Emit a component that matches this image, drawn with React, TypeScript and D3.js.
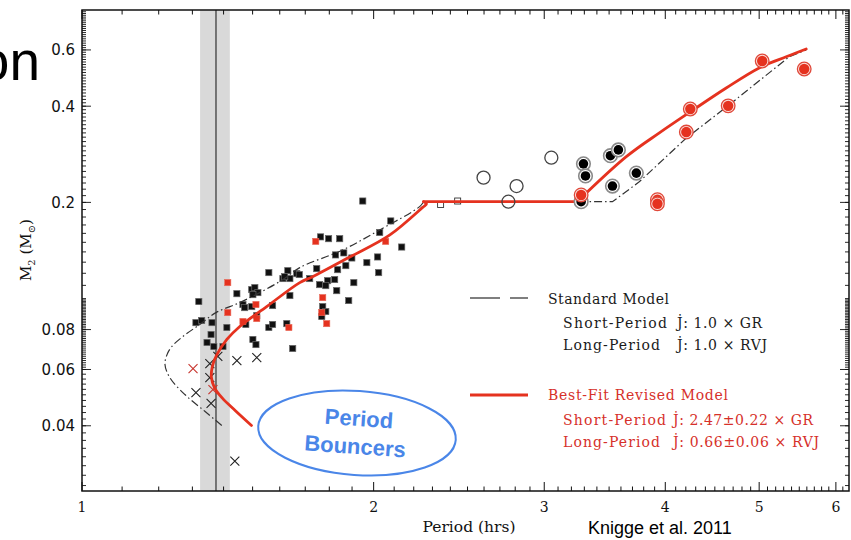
import React from 'react';
import * as d3 from 'd3';

const W = 851;
const H = 540;
const plotLeft = 82;
const plotRight = 849;
const plotTop = 10;
const plotBottom = 491;

// Axis domains and labelled ticks
const periodDomain: [number, number] = [1, 6.19];
const massDomain: [number, number] = [0.025, 0.8];
const periodTicks = [1, 2, 3, 4, 5, 6];
const periodTickLabels = ['1', '2', '3', '4', '5', '6'];
const massTicks = [0.04, 0.06, 0.08, 0.2, 0.4, 0.6];
const massTickLabels = ['0.04', '0.06', '0.08', '0.2', '0.4', '0.6'];

// Period minimum (line) and its uncertainty band, hours
const periodMinimum = 1.375;
const periodMinBand: [number, number] = [1.324, 1.421];

// [period (hrs), M2 (Msun)]
const blackSquares: [number, number][] = [
  [1.949, 0.202], [2.083, 0.175], [2.029, 0.161], [1.763, 0.156], [1.797, 0.154],
  [1.845, 0.154], [2.138, 0.145], [1.827, 0.137], [1.863, 0.139], [1.899, 0.134],
  [2.019, 0.135], [1.968, 0.1296], [1.872, 0.1268], [1.836, 0.1232], [1.747, 0.1241],
  [1.631, 0.1223], [1.666, 0.1197], [2.024, 0.1206], [1.612, 0.1155], [1.639, 0.1155],
  [1.718, 0.1155], [1.793, 0.1138], [1.823, 0.1147], [1.759, 0.1106], [1.785, 0.1098],
  [1.908, 0.1122], [1.832, 0.1059], [1.639, 0.1022], [1.885, 0.0986], [1.772, 0.0944],
  [1.785, 0.0911], [1.768, 0.0879], [1.627, 0.0835], [1.650, 0.0698], [1.559, 0.1206],
  [1.619, 0.1171], [1.676, 0.1189], [1.320, 0.0979], [1.445, 0.1036], [1.497, 0.1067],
  [1.508, 0.1082], [1.519, 0.1044], [1.501, 0.1029], [1.466, 0.0958], [1.472, 0.0937],
  [1.497, 0.0944], [1.573, 0.0951], [1.515, 0.0885], [1.311, 0.0841], [1.329, 0.0854],
  [1.362, 0.0841], [1.411, 0.0812], [1.476, 0.0830], [1.559, 0.0812], [1.573, 0.0830],
  [1.359, 0.0772], [1.346, 0.0729], [1.368, 0.0708], [1.398, 0.0708], [1.501, 0.0745],
  [1.512, 0.0718],
];
const redSquares: [number, number][] = [
  [1.743, 0.151], [2.058, 0.151], [1.772, 0.1007], [1.768, 0.0904], [1.789, 0.0835],
  [1.635, 0.0812], [1.414, 0.1122], [1.414, 0.0904], [1.512, 0.0958], [1.515, 0.0866],
  [1.466, 0.0848],
];
const openSquares: [number, number][] = [[2.345, 0.197], [2.442, 0.202]];
const blackCrosses: [number, number][] = [
  [1.381, 0.0659], [1.445, 0.0640], [1.515, 0.0654], [1.355, 0.0626], [1.355, 0.0566],
  [1.311, 0.0508], [1.359, 0.0470], [1.438, 0.0310],
];
const redCrosses: [number, number][] = [[1.302, 0.0604], [1.365, 0.0519]];
const openCircles: [number, number][] = [
  [2.597, 0.239], [2.809, 0.225], [3.051, 0.276], [2.755, 0.201],
];
const blackCircles: [number, number][] = [
  [3.293, 0.264], [3.309, 0.242], [3.511, 0.280], [3.578, 0.292], [3.528, 0.225],
  [3.734, 0.247], [3.275, 0.201],
];
const redCircles: [number, number][] = [
  [3.275, 0.211], [4.245, 0.392], [4.205, 0.332], [4.645, 0.401], [5.036, 0.554],
  [5.565, 0.523], [3.926, 0.204], [3.926, 0.198],
];

// Standard model track
const standardShort: [number, number][] = [
  [1.394, 0.0401], [1.339, 0.0444], [1.277, 0.0501], [1.232, 0.0566], [1.218, 0.0622],
  [1.224, 0.0668], [1.238, 0.0708], [1.271, 0.0761], [1.323, 0.0830], [1.375, 0.0904],
  [1.455, 0.0972], [1.533, 0.1052], [1.612, 0.1147], [1.678, 0.1250], [1.858, 0.142],
  [2.029, 0.164], [2.231, 0.194], [2.252, 0.201],
];
const standardLong: [number, number][] = [
  [2.252, 0.201], [3.528, 0.201], [3.760, 0.232], [4.205, 0.318], [4.656, 0.404],
  [5.370, 0.571], [5.591, 0.600],
];

// Best-fit revised model track
const revisedShort: [number, number][] = [
  [1.496, 0.0401], [1.440, 0.0446], [1.396, 0.0488], [1.370, 0.0527], [1.360, 0.0568],
  [1.363, 0.0612], [1.377, 0.0665], [1.411, 0.0745], [1.455, 0.0818], [1.551, 0.0944],
  [1.678, 0.1122], [1.730, 0.1171], [1.890, 0.135], [2.077, 0.158], [2.247, 0.193],
  [2.268, 0.198], [2.252, 0.201],
];
const revisedPlateau: [number, number][] = [[2.252, 0.201], [3.245, 0.201]];
const revisedLong: [number, number][] = [
  [3.245, 0.201], [3.646, 0.278], [3.944, 0.330], [4.245, 0.384], [4.623, 0.456],
  [5.0, 0.527], [5.332, 0.571], [5.591, 0.604],
];

const RED = '#e5321f';
const RED_TEXT = '#d6302a';
const BLUE = '#4a86e8';
const SERIF = '"DejaVu Serif", serif';

export default function App() {
  const x = d3.scaleLog().domain(periodDomain).range([plotLeft, plotRight]);
  const y = d3.scaleLog().domain(massDomain).range([plotBottom, plotTop]);

  const curved = d3.line<[number, number]>()
    .x(d => x(d[0])).y(d => y(d[1]))
    .curve(d3.curveCatmullRom.alpha(0.5));
  const straight = d3.line<[number, number]>()
    .x(d => x(d[0])).y(d => y(d[1]));

  // Minor ticks along period axis (every 0.1 hr)
  const periodMinor = d3.range(11, 62).map(v => v / 10).filter(v => v % 1 !== 0);
  // Minor ticks along mass axis
  const massMinor = [
    ...d3.range(26, 60, 2).map(v => v / 1000),
    ...d3.range(60, 100, 1).map(v => v / 1000),
    ...d3.range(10, 80, 1).map(v => v / 100),
  ].filter(v => v >= massDomain[0] && v <= massDomain[1]);

  const sq = 6.2;
  const cr = 4.5;

  const ex = 357, ey = 433;

  return (
    <svg width={W} height={H} style={{ position: 'absolute', left: 0, top: 0, background: '#fff' }}
      xmlns="http://www.w3.org/2000/svg">
      <rect x={0} y={0} width={W} height={H} fill="#fff" />

      {/* period-minimum band */}
      <rect x={x(periodMinBand[0])} y={plotTop} width={x(periodMinBand[1]) - x(periodMinBand[0])}
        height={plotBottom - plotTop} fill="#d9d9d9" />
      <line x1={x(periodMinimum)} x2={x(periodMinimum)} y1={plotTop} y2={plotBottom} stroke="#222" strokeWidth={1.1} />

      {/* squares */}
      <g>
        {blackSquares.map((d, i) => (
          <rect key={'b' + i} x={x(d[0]) - sq / 2} y={y(d[1]) - sq / 2} width={sq} height={sq}
            fill="#111" stroke="#666" strokeWidth={0.7} />
        ))}
        {redSquares.map((d, i) => (
          <rect key={'r' + i} x={x(d[0]) - sq / 2} y={y(d[1]) - sq / 2} width={sq} height={sq}
            fill={RED} stroke="#e86a5a" strokeWidth={0.6} />
        ))}
        {openSquares.map((d, i) => (
          <rect key={'o' + i} x={x(d[0]) - 3} y={y(d[1]) - 3} width={6} height={6}
            fill="#fff" stroke="#333" strokeWidth={0.9} />
        ))}
      </g>

      {/* crosses */}
      <g strokeWidth={1.1} fill="none">
        {blackCrosses.map((d, i) => {
          const cx = x(d[0]), cy = y(d[1]);
          return <path key={'bc' + i} d={`M${cx - cr},${cy - cr}L${cx + cr},${cy + cr}M${cx - cr},${cy + cr}L${cx + cr},${cy - cr}`} stroke="#222" />;
        })}
        {redCrosses.map((d, i) => {
          const cx = x(d[0]), cy = y(d[1]);
          return <path key={'rc' + i} d={`M${cx - cr},${cy - cr}L${cx + cr},${cy + cr}M${cx - cr},${cy + cr}L${cx + cr},${cy - cr}`} stroke="#c8352e" />;
        })}
      </g>

      {/* standard model */}
      <g fill="none" stroke="#333" strokeWidth={1.2} strokeDasharray="8,3,1.5,3">
        <path d={curved(standardShort) || ''} />
        <path d={straight(standardLong) || ''} />
      </g>

      {/* revised model */}
      <g fill="none" stroke={RED} strokeWidth={2.8} strokeLinejoin="round" strokeLinecap="round">
        <path d={curved(revisedShort) || ''} />
        <path d={straight(revisedPlateau) || ''} />
        <path d={curved(revisedLong) || ''} />
      </g>

      {/* circles */}
      <g>
        {openCircles.map((d, i) => (
          <circle key={'oc' + i} cx={x(d[0])} cy={y(d[1])} r={6.5} fill="none" stroke="#444" strokeWidth={1.3} />
        ))}
        {blackCircles.map((d, i) => (
          <g key={'bk' + i}>
            <circle cx={x(d[0])} cy={y(d[1])} r={6.8} fill="#fff" stroke="#8a8a8a" strokeWidth={1.6} />
            <circle cx={x(d[0])} cy={y(d[1])} r={4.8} fill="#000" />
          </g>
        ))}
        {redCircles.map((d, i) => (
          <g key={'rd' + i}>
            <circle cx={x(d[0])} cy={y(d[1])} r={6.8} fill="#fbe3df" stroke="#e0483a" strokeWidth={1.3} />
            <circle cx={x(d[0])} cy={y(d[1])} r={5.2} fill={RED} />
          </g>
        ))}
      </g>

      {/* frame */}
      <rect x={plotLeft} y={plotTop} width={plotRight - plotLeft} height={plotBottom - plotTop}
        fill="none" stroke="#111" strokeWidth={1.5} />

      {/* period axis ticks, bottom and top */}
      <g stroke="#111" strokeWidth={1}>
        {periodTicks.map(v => (
          <g key={'pt' + v}>
            <line x1={x(v)} x2={x(v)} y1={plotBottom} y2={plotBottom - 9} />
            <line x1={x(v)} x2={x(v)} y1={plotTop} y2={plotTop + 9} />
          </g>
        ))}
        {periodMinor.map(v => (
          <g key={'pm' + v}>
            <line x1={x(v)} x2={x(v)} y1={plotBottom} y2={plotBottom - 4.5} />
            <line x1={x(v)} x2={x(v)} y1={plotTop} y2={plotTop + 4.5} />
          </g>
        ))}
      </g>

      {/* mass axis ticks, left and right */}
      <g stroke="#111" strokeWidth={0.9}>
        {massTicks.map(v => (
          <g key={'mt' + v}>
            <line x1={plotLeft} x2={plotLeft + 9} y1={y(v)} y2={y(v)} />
            <line x1={plotRight} x2={plotRight - 9} y1={y(v)} y2={y(v)} />
          </g>
        ))}
        {massMinor.map(v => (
          <g key={'mm' + v}>
            <line x1={plotLeft} x2={plotLeft + 4} y1={y(v)} y2={y(v)} />
            <line x1={plotRight} x2={plotRight - 4} y1={y(v)} y2={y(v)} />
          </g>
        ))}
      </g>

      {/* tick labels */}
      <g fontFamily={SERIF} fontSize={14} fill="#111" textAnchor="middle">
        {periodTicks.map((v, i) => (
          <text key={'pl' + v} x={x(v)} y={512}>{periodTickLabels[i]}</text>
        ))}
      </g>
      <g fontFamily='"DejaVu Sans", sans-serif' fontSize={15} fill="#111" textAnchor="end">
        {massTicks.map((v, i) => (
          <text key={'ml' + v} x={75} y={y(v) + 5.5}>{massTickLabels[i]}</text>
        ))}
      </g>

      {/* axis titles */}
      <text x={469} y={532} fontFamily={SERIF} fontSize={15.5} textAnchor="middle" fill="#111">Period (hrs)</text>
      <text transform="translate(31,250) rotate(-90)" fontFamily={SERIF} fontSize={15} textAnchor="middle" fill="#111">
        M<tspan fontSize={10} dy={4}>2</tspan><tspan dy={-4}> (M</tspan><tspan fontSize={10} dy={4}>⊙</tspan><tspan dy={-4}>)</tspan>
      </text>

      {/* legend */}
      <line x1={470} x2={528} y1={298} y2={298} stroke="#555" strokeWidth={1.3} strokeDasharray="30 10 18 100" />
      <g fontFamily={SERIF} fontSize={14} fill="#1a1a1a">
        <text x={548} y={304} textLength={121} lengthAdjust="spacing">Standard Model</text>
        <text x={563} y={328} textLength={104} lengthAdjust="spacing">Short-Period</text>
        <text x={677} y={328} textLength={85} lengthAdjust="spacing">J̇: 1.0 × GR</text>
        <text x={563} y={350} textLength={97} lengthAdjust="spacing">Long-Period</text>
        <text x={677} y={350} textLength={90} lengthAdjust="spacing">J̇: 1.0 × RVJ</text>
      </g>
      <line x1={470} x2={528} y1={395} y2={395} stroke={RED} strokeWidth={3} />
      <g fontFamily={SERIF} fontSize={14} fill={RED_TEXT}>
        <text x={548} y={400} textLength={180} lengthAdjust="spacing">Best-Fit Revised Model</text>
        <text x={563} y={425} textLength={103} lengthAdjust="spacing">Short-Period</text>
        <text x={673} y={425} textLength={140} lengthAdjust="spacing">J̇: 2.47±0.22 × GR</text>
        <text x={563} y={447} textLength={97} lengthAdjust="spacing">Long-Period</text>
        <text x={673} y={447} textLength={146} lengthAdjust="spacing">J̇: 0.66±0.06 × RVJ</text>
      </g>

      {/* period bouncer callout */}
      <g transform={`rotate(4, ${ex}, ${ey})`}>
        <ellipse cx={ex} cy={ey} rx={99} ry={42} fill="#fff" stroke={BLUE} strokeWidth={2} />
        <text x={ex + 1} y={ey - 7} fontFamily='"Liberation Sans", Arial, sans-serif' fontWeight="bold"
          fontSize={22} fill={BLUE} textAnchor="middle">Period</text>
        <text x={ex - 1} y={ey + 21} fontFamily='"Liberation Sans", Arial, sans-serif' fontWeight="bold"
          fontSize={22} fill={BLUE} textAnchor="middle">Bouncers</text>
      </g>

      {/* page text */}
      <text x={40} y={80} fontFamily='"Liberation Sans", Arial, sans-serif' fontSize={55} fill="#000" textAnchor="end">on</text>
      <text x={588} y={534} fontFamily='"Liberation Sans", Arial, sans-serif' fontSize={18} fill="#000">Knigge et al. 2011</text>
    </svg>
  );
}
